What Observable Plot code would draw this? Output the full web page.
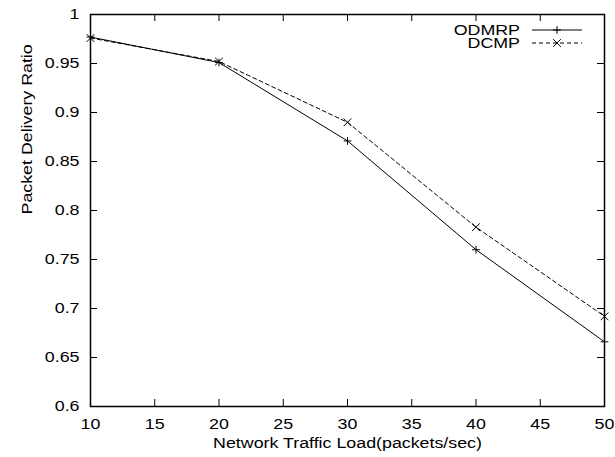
<!DOCTYPE html>
<html>
<head>
<meta charset="utf-8">
<script src="https://cdn.jsdelivr.net/npm/d3@7"></script>
<script src="https://cdn.jsdelivr.net/npm/@observablehq/plot@0.6"></script>
<style>
  html, body { margin: 0; padding: 0; background: #fff; }
  #chart { width: 615px; height: 457px; }
</style>
</head>
<body>
<div id="chart"></div>
<script>
// ---- data ----
const loads = [10, 20, 30, 40, 50];
const odmrp = [0.977, 0.951, 0.871, 0.760, 0.666];
const dcmp  = [0.976, 0.952, 0.890, 0.783, 0.692];
const seriesNames = ["ODMRP", "DCMP"];
const xTicks = [10, 15, 20, 25, 30, 35, 40, 45, 50];
const xTickLabels = ["10", "15", "20", "25", "30", "35", "40", "45", "50"];
const yTicks = [0.6, 0.65, 0.7, 0.75, 0.8, 0.85, 0.9, 0.95, 1];
const yTickLabels = ["0.6", "0.65", "0.7", "0.75", "0.8", "0.85", "0.9", "0.95", "1"];
const xTitle = "Network Traffic Load(packets/sec)";
const yTitle = "Packet Delivery Ratio";

const rowsA = loads.map((x, i) => ({series: seriesNames[0], x, y: odmrp[i]}));
const rowsB = loads.map((x, i) => ({series: seriesNames[1], x, y: dcmp[i]}));

const W = 615, H = 457;
const mL = 90, mR = 11, mT = 14, mB = 51;
const innerW = W - mL - mR, innerH = H - mT - mB;
const tick = 7;
const font = "'Liberation Sans', Arial, Helvetica, sans-serif";
const fontSize = 15.5;
const stretch = 1.15; // glyphs in the reference are slightly wider than tall

const svg = Plot.plot({
  width: W, height: H,
  marginLeft: mL, marginRight: mR, marginTop: mT, marginBottom: mB,
  style: {fontFamily: font, fontSize: fontSize + "px", color: "#000", background: "#fff"},
  x: {domain: [10, 50]},
  y: {domain: [0.6, 1]},
  marks: [
    // inward ticks on all four sides
    Plot.ruleX(xTicks, {x: d => d, insetTop: innerH - tick, stroke: "#000", strokeWidth: 1}),
    Plot.ruleX(xTicks, {x: d => d, insetBottom: innerH - tick, stroke: "#000", strokeWidth: 1}),
    Plot.ruleY(yTicks, {y: d => d, insetRight: innerW - tick, stroke: "#000", strokeWidth: 1}),
    Plot.ruleY(yTicks, {y: d => d, insetLeft: innerW - tick, stroke: "#000", strokeWidth: 1}),
    Plot.axisX({ticks: xTicks, tickSize: 0, tickPadding: 11, tickFormat: d => xTickLabels[xTicks.indexOf(d)], label: null, fill: "#000"}),
    Plot.axisY({ticks: yTicks, tickSize: 0, tickPadding: 11, tickFormat: d => yTickLabels[yTicks.indexOf(d)], label: null, fill: "#000"}),
    // series
    Plot.line(rowsA, {x: "x", y: "y", stroke: "#000", strokeWidth: 1}),
    Plot.line(rowsB, {x: "x", y: "y", stroke: "#000", strokeWidth: 1, strokeDasharray: "4,3"}),
    Plot.dot(rowsA, {x: "x", y: "y", symbol: "plus", r: 2.6, stroke: "#000", strokeWidth: 1}),
    Plot.dot(rowsB, {x: "x", y: "y", symbol: "times", r: 3.6, stroke: "#000", strokeWidth: 1}),
    Plot.frame({stroke: "#000", strokeWidth: 1.5}),
    // axis titles
    Plot.text([xTitle], {text: d => d, frameAnchor: "bottom", dy: 41, fill: "#000"}),
    Plot.text([yTitle], {text: d => d, frameAnchor: "left", rotate: -90, dx: -63, dy: 4, fill: "#000"})
  ]
});
document.getElementById("chart").appendChild(svg);

// ---- key (top-right, gnuplot style) ----
const key = d3.select(svg).append("g").attr("font-family", font).attr("font-size", fontSize);
const keyStyles = [
  {name: seriesNames[0], dash: null, sym: d3.symbolPlus, size: Math.PI * 2.6 * 2.6},
  {name: seriesNames[1], dash: "4,3", sym: d3.symbolTimes, size: Math.PI * 3.6 * 3.6}
];
keyStyles.forEach((k, i) => {
  const y = 30 + i * 13;
  key.append("text").attr("transform", `translate(520,${y})`).attr("dy", "0.35em")
    .attr("text-anchor", "end").attr("fill", "#000").text(k.name);
  key.append("line").attr("x1", 532).attr("x2", 582).attr("y1", y).attr("y2", y)
    .attr("stroke", "#000").attr("stroke-width", 1).attr("stroke-dasharray", k.dash);
  key.append("path").attr("transform", `translate(557,${y})`)
    .attr("d", d3.symbol(k.sym, k.size)()).attr("fill", "none").attr("stroke", "#000");
});

// widen glyphs horizontally around each text's own anchor
d3.select(svg).selectAll("text").each(function() {
  const t = this.getAttribute("transform");
  if (t) {
    this.setAttribute("transform", t + ` scale(${stretch},1)`);
  } else {
    const x = +(this.getAttribute("x") || 0), y = +(this.getAttribute("y") || 0);
    this.removeAttribute("x"); this.removeAttribute("y");
    this.setAttribute("transform", `translate(${x},${y}) scale(${stretch},1)`);
  }
});
</script>
</body>
</html>
